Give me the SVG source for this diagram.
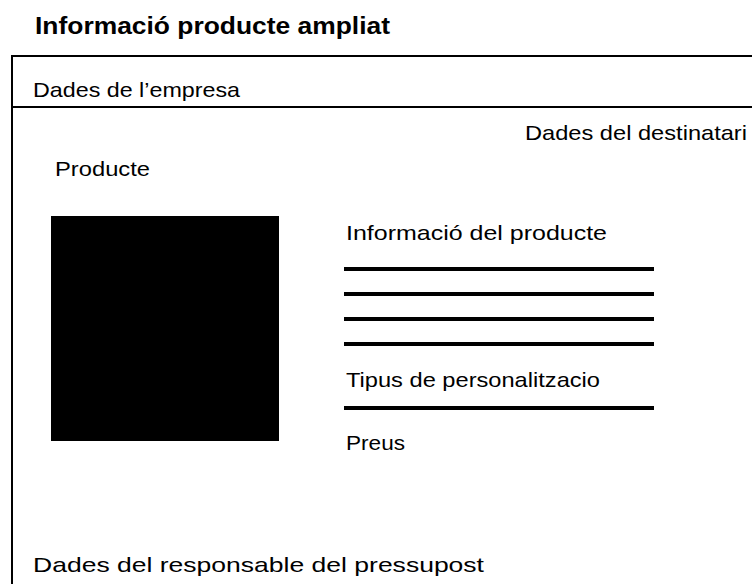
<svg xmlns="http://www.w3.org/2000/svg" width="752" height="584" viewBox="0 0 752 584">
<style>
text{font-family:"Liberation Sans","DejaVu Sans",sans-serif;fill:#000}
.t{font-size:21px}
.h{font-size:24px;font-weight:bold}
.frame{stroke:#000;stroke-width:2;fill:none}
.rule{stroke:#000;stroke-width:4}
</style>
<rect width="752" height="584" fill="#fff"/>
<g id="title"><text class="h" x="35" y="34" textLength="355" lengthAdjust="spacingAndGlyphs">Informació producte ampliat</text></g>
<g id="frame">
<path class="frame" d="M12,584 V56 H752 M12,107 H752"/>
</g>
<g id="header"><text class="t" x="33" y="97" textLength="207" lengthAdjust="spacingAndGlyphs">Dades de l’empresa</text></g>
<g id="destinatari"><text class="t" x="525" y="140" textLength="222" lengthAdjust="spacingAndGlyphs">Dades del destinatari</text></g>
<g id="producte">
<text class="t" x="55" y="176" textLength="95" lengthAdjust="spacingAndGlyphs">Producte</text>
<rect x="51" y="216" width="228" height="225" fill="#000"/>
</g>
<g id="info">
<text class="t" x="346" y="240" textLength="261" lengthAdjust="spacingAndGlyphs">Informació del producte</text>
<line class="rule" x1="344" y1="269" x2="654" y2="269"/>
<line class="rule" x1="344" y1="294" x2="654" y2="294"/>
<line class="rule" x1="344" y1="319" x2="654" y2="319"/>
<line class="rule" x1="344" y1="344" x2="654" y2="344"/>
<text class="t" x="346" y="387" textLength="254" lengthAdjust="spacingAndGlyphs">Tipus de personalitzacio</text>
<line class="rule" x1="344" y1="408" x2="654" y2="408"/>
<text class="t" x="346" y="450" textLength="59" lengthAdjust="spacingAndGlyphs">Preus</text>
</g>
<g id="responsable"><text class="t" x="33" y="572" textLength="451" lengthAdjust="spacingAndGlyphs">Dades del responsable del pressupost</text></g>
<g id="connectors"></g>
</svg>
